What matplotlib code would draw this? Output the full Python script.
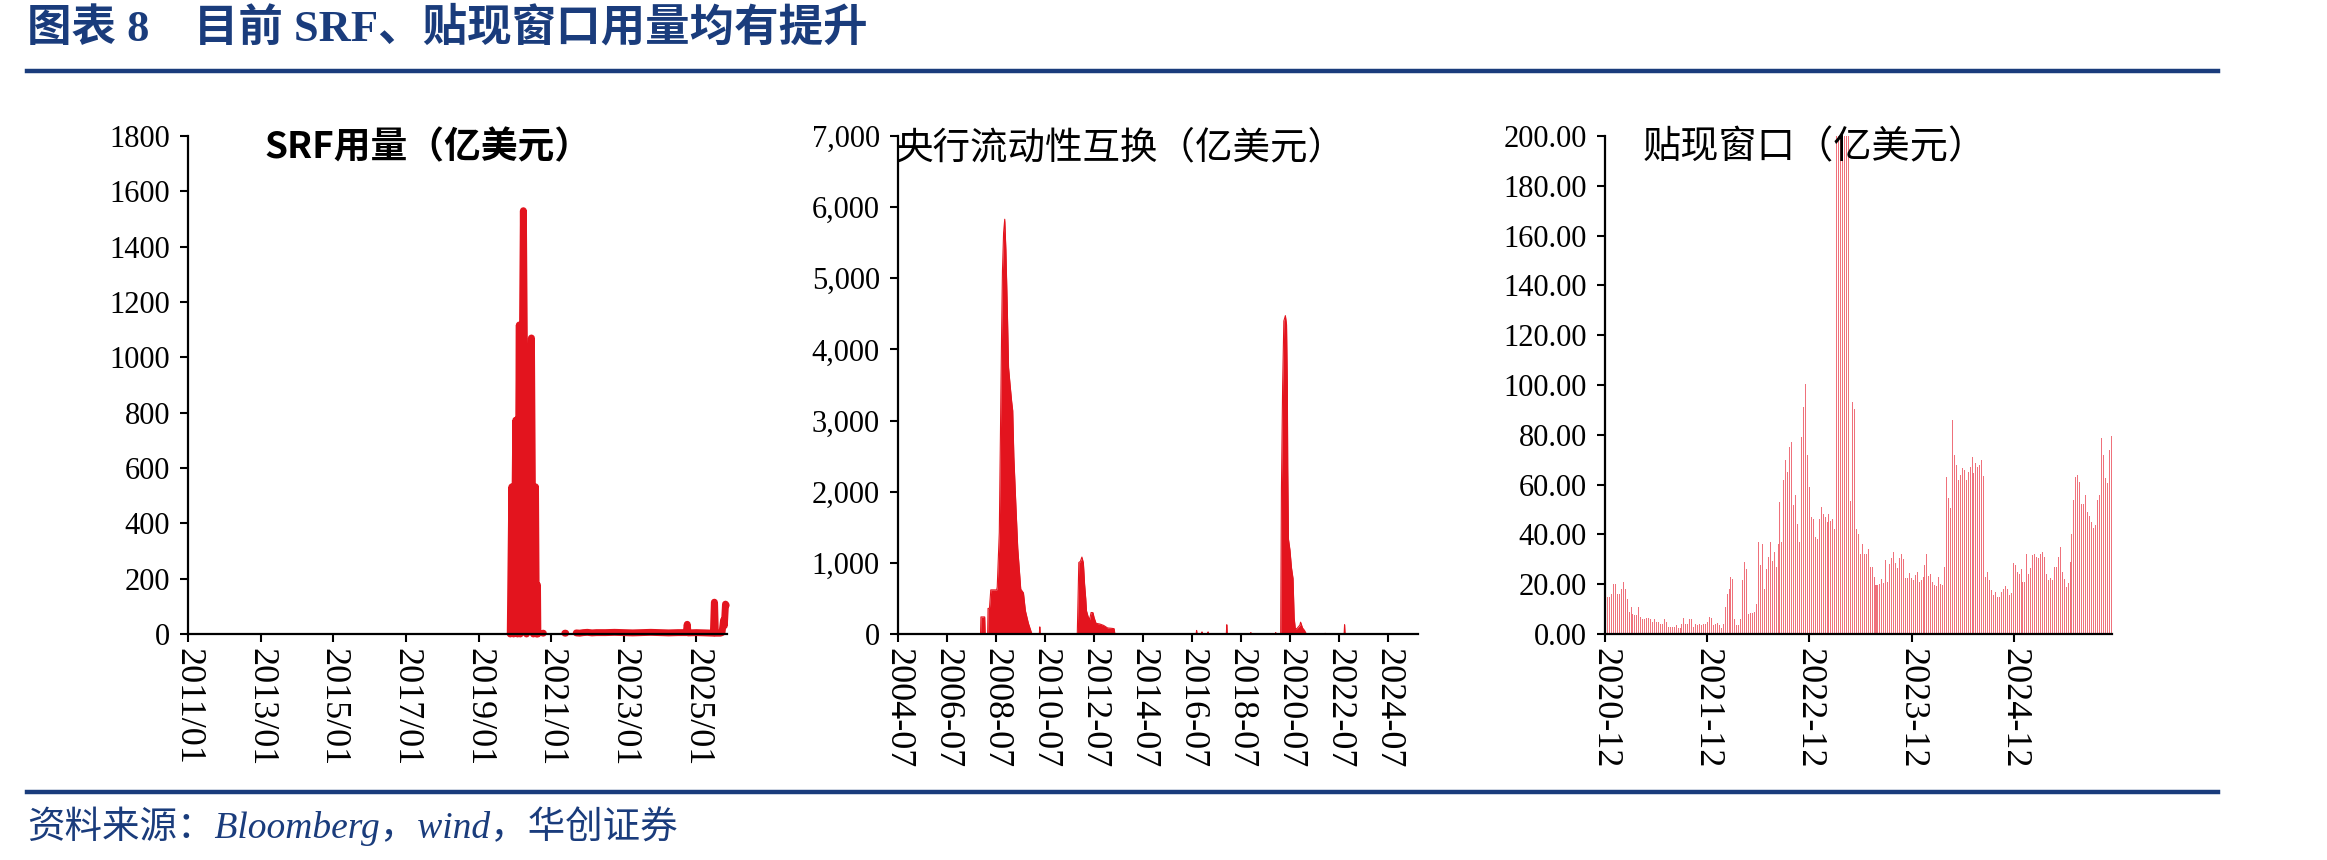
import matplotlib
matplotlib.use("Agg")
import matplotlib.pyplot as plt
import matplotlib.dates as mdates
from matplotlib.lines import Line2D
from matplotlib.ticker import FuncFormatter, MultipleLocator
import numpy as np
import pandas as pd

nan = np.nan

# ---- SRF 用量（亿美元） ----
srf_dates = [
    "2019-11-16", "2019-12-02", "2019-12-20", "2020-01-11", "2020-01-28", "2020-02-15",
    "2020-02-25", "2020-03-27", "2020-04-28", "2020-06-16", "2020-07-05", "2020-07-27",
    "2020-08-05", "2020-08-16", "2020-08-20", "2020-08-25",
    "2020-10-10", "2020-10-14", "2020-11-01",
    "2021-05-18", "2021-05-27", "2021-07-01",
    "2021-09-10", "2021-10-15", "2021-11-20", "2021-12-31", "2022-02-15", "2022-04-01",
    "2022-06-30", "2022-09-30", "2022-12-30", "2023-03-31", "2023-06-30", "2023-09-29",
    "2023-12-29", "2024-03-28", "2024-06-28", "2024-09-20", "2024-09-30", "2024-10-08",
    "2024-12-31", "2025-03-31", "2025-06-20", "2025-06-30", "2025-07-02", "2025-07-10",
    "2025-08-29", "2025-09-15", "2025-09-30", "2025-10-08", "2025-10-20", "2025-10-27",
]
srf_values = [
    0, 532, 0, 773, 0, 1117,
    0, 1530, 0, 1070, 0, 532,
    0, 177, 0, nan,
    3, 3, nan,
    3, 3, nan,
    4, 3, 5, 6, 4, 5,
    5, 6, 5, 4, 5, 6,
    5, 4, 5, 5, 35, 4,
    5, 4, 3, 115, 110, 3,
    3, 5, 50, 30, 108, 104,
]

# ---- 央行流动性互换（亿美元） ----
swap_dates = [
    "2007-11-14", "2007-11-20", "2008-01-15", "2008-01-22", "2008-02-28", "2008-03-05",
    "2008-03-26", "2008-04-15", "2008-07-12", "2008-07-20", "2008-08-20", "2008-09-07",
    "2008-09-24", "2008-10-06", "2008-10-23", "2008-11-09", "2008-11-26", "2008-12-19",
    "2009-01-05", "2009-01-28", "2009-02-20", "2009-03-08", "2009-03-25", "2009-04-23",
    "2009-05-22", "2009-07-06", "2009-08-15", "2009-09-13", "2009-10-28", "2009-12-19",
    "2010-04-09", "2010-04-16", "2010-04-23",
    "2011-10-27", "2011-11-19", "2011-12-12", "2012-01-04", "2012-01-26", "2012-02-13",
    "2012-03-01", "2012-03-12", "2012-04-04", "2012-04-27", "2012-05-20", "2012-06-17",
    "2012-07-04", "2012-08-02", "2012-09-28", "2012-11-24", "2013-01-21", "2013-03-19",
    "2013-04-28", "2013-05-10",
    "2016-09-03", "2016-09-10", "2016-09-17", "2016-11-22", "2016-11-29", "2016-12-06",
    "2017-02-21", "2017-02-28", "2017-03-07", "2017-11-27", "2017-12-04", "2017-12-11",
    "2018-11-21", "2018-11-28", "2018-12-05", "2019-11-27", "2019-12-04", "2019-12-11",
    "2020-02-16", "2020-02-27", "2020-03-16", "2020-04-03", "2020-04-26", "2020-05-13",
    "2020-05-25", "2020-05-31", "2020-06-11", "2020-07-03", "2020-07-26", "2020-08-18",
    "2020-09-04", "2020-09-21", "2020-10-14", "2020-11-28", "2020-12-09", "2021-01-07",
    "2021-02-05", "2021-03-05",
    "2021-12-03", "2021-12-10", "2021-12-17", "2022-09-19", "2022-09-26", "2022-10-03",
]
swap_values = [
    0, 240, 240, 0, 0, 360,
    360, 620, 620, 660, 1430, 2900,
    4300, 5100, 5640, 5830, 5400, 4500,
    3745, 3500, 3270, 3140, 2490, 1835,
    1207, 630, 578, 327, 150, 0,
    0, 100, 0,
    0, 1005, 1020, 1081, 1000, 700,
    500, 327, 250, 200, 302, 300,
    230, 150, 140, 120, 85, 80,
    75, 0,
    0, 50, 0, 0, 30, 0,
    0, 30, 0, 0, 130, 0,
    0, 20, 0, 0, 20, 0,
    0, 2036, 3494, 4400, 4475, 4350,
    3494, 2338, 1332, 1181, 930, 780,
    226, 75, 75, 125, 166, 85,
    50, 0,
    0, 10, 0, 0, 130, 0,
]

# ---- 贴现窗口（亿美元），周度 ----
dw_start = "2020-12-03"
dw_values = [
    17, 15, 15, 16, 20, 20, 16, 16, 18, 21,
    18, 14, 9, 11, 8, 7.5, 7.5, 11, 7, 6,
    6, 6.5, 6.5, 6, 5, 6, 5, 5, 4, 4,
    6, 5, 3, 3, 3, 3, 3.5, 2.6, 2.6, 4,
    6.5, 4, 4, 6, 6, 3, 4, 3.5, 4, 3.5,
    4, 4, 5, 7, 6.5, 3.5, 4, 4.6, 3.5, 2.6,
    4, 11, 16, 18, 23, 22, 6, 3.5, 3.5, 6,
    21.5, 29, 26, 8, 8.6, 8.6, 9, 12, 37, 27.6,
    36, 18, 26, 31, 37, 29.5, 33, 27, 36, 53,
    37, 62, 70, 65, 75, 77, 52, 56, 44, 37,
    79, 91, 100.5, 72, 59, 47, 46, 39, 38, 46,
    51, 48, 47, 45, 48, 45.5, 46, 42,
    1530, 1100, 880, 700, 690, 670, 600,
    53.5, 93, 90.5, 42, 40, 32, 36, 32, 32, 34,
    27, 27, 23, 19.7, 19.7, 20, 22, 20.5, 29.7, 21,
    28, 30.5, 33, 28.7, 26.6, 30.5, 32, 30, 22.6, 22.6,
    24.4, 22.6, 21.5, 23.7, 24.9, 21, 21.8, 23, 27.6, 32,
    23.4, 24, 21, 19.7, 19.4, 23, 20.1, 19.7, 27, 63,
    54.6, 50.6, 86, 72, 68, 62, 64, 66.8, 66, 62,
    65, 67, 71, 64.7, 68.7, 67, 68, 70, 63.5, 23,
    25, 21.8, 17.5, 15.8, 16.8, 14.8, 14.7, 16.8, 18.2, 19.4,
    18, 15.8, 16.5, 28.7, 27.7, 24.9, 24, 26.3, 21, 21,
    32, 24, 26.6, 31.6, 32, 30.9, 30.5, 32, 33, 31,
    24, 21.8, 22.6, 21.8, 27, 27, 31, 35, 24.7, 22,
    19, 20.4, 29, 40, 54, 63, 64, 61, 52.4, 52.4,
    56, 49, 47.4, 44.8, 42.7, 43.8, 53.9, 56, 78.7, 72,
    62.8, 60.6, 74, 79.5,
]

srf_ticks = ["2011-01-01", "2013-01-01", "2015-01-01", "2017-01-01",
             "2019-01-01", "2021-01-01", "2023-01-01", "2025-01-01"]
swap_ticks = ["2004-07-01", "2006-07-01", "2008-07-01", "2010-07-01", "2012-07-01",
              "2014-07-01", "2016-07-01", "2018-07-01", "2020-07-01", "2022-07-01",
              "2024-07-01"]
dw_ticks = ["2020-12-01", "2021-12-01", "2022-12-01", "2023-12-01", "2024-12-01"]

title = "图表 8    目前 SRF、贴现窗口用量均有提升"
source = "资料来源：Bloomberg，wind，华创证券"

W, H = 2327, 860
RED = "#E3141E"
PINK = "#EF717B"
BLUE = "#1A3C7C"
SERIF = ["Liberation Serif", "Noto Sans CJK SC"]
CJK = ["Noto Sans CJK SC", "DejaVu Sans"]
YTICK_FS = 22
XTICK_FS = 26

fig = plt.figure(figsize=(W / 100, H / 100), dpi=100)


def px_axes(x0, x1, y_top, y_bot):
    return fig.add_axes([x0 / W, 1 - y_bot / H, (x1 - x0) / W, (y_bot - y_top) / H])


def style_axes(ax):
    for side in ("top", "right"):
        ax.spines[side].set_visible(False)
    for side in ("left", "bottom"):
        ax.spines[side].set_linewidth(1.6)
        ax.spines[side].set_color("black")
    ax.tick_params(axis="both", direction="out", length=6, width=1.5, colors="black")
    ax.tick_params(axis="y", pad=7)
    ax.tick_params(axis="x", pad=4)
    for lab in ax.get_yticklabels():
        lab.set_fontfamily(SERIF)
        lab.set_fontsize(YTICK_FS)
    for lab in ax.get_xticklabels():
        lab.set_fontfamily(SERIF)
        lab.set_fontsize(XTICK_FS)
        lab.set_rotation(-90)
        lab.set_ha("center")
        lab.set_va("top")


# panel 1: SRF
ax1 = px_axes(188, 727, 136, 634)
ax1.plot(pd.to_datetime(srf_dates), srf_values, color=RED, lw=5,
         solid_capstyle="round", solid_joinstyle="round", clip_on=False, zorder=2)
ax1.set_ylim(0, 1800)
ax1.yaxis.set_major_locator(MultipleLocator(200))
ax1.set_xlim(pd.Timestamp("2011-01-01"), pd.Timestamp("2025-11-04"))
ax1.set_xticks(pd.to_datetime(srf_ticks))
ax1.xaxis.set_major_formatter(mdates.DateFormatter("%Y/%m"))
style_axes(ax1)

# panel 2: 央行流动性互换
ax2 = px_axes(898, 1418, 136, 634)
sd = pd.to_datetime(swap_dates)
ax2.fill_between(sd, swap_values, 0, color=RED, lw=0)
ax2.plot(sd, swap_values, color=RED, lw=0.8)
ax2.set_ylim(0, 7000)
ax2.yaxis.set_major_locator(MultipleLocator(1000))
ax2.yaxis.set_major_formatter(FuncFormatter(lambda v, p: f"{v:,.0f}"))
ax2.set_xlim(pd.Timestamp("2004-07-01"), pd.Timestamp("2025-09-25"))
ax2.set_xticks(pd.to_datetime(swap_ticks))
ax2.xaxis.set_major_formatter(mdates.DateFormatter("%Y-%m"))
style_axes(ax2)

# panel 3: 贴现窗口
ax3 = px_axes(1605, 2112, 136, 634)
dw_dates = pd.date_range(dw_start, periods=len(dw_values), freq="7D")
ax3.bar(dw_dates, dw_values, width=3.6, color=PINK, lw=0)
ax3.set_ylim(0, 200)
ax3.yaxis.set_major_locator(MultipleLocator(20))
ax3.yaxis.set_major_formatter(FuncFormatter(lambda v, p: f"{v:.2f}"))
ax3.set_xlim(pd.Timestamp("2020-12-01"), dw_dates[-1] + pd.Timedelta(days=3))
ax3.set_xticks(pd.to_datetime(dw_ticks))
ax3.xaxis.set_major_formatter(mdates.DateFormatter("%Y-%m"))
style_axes(ax3)

# panel titles
fig.text(264 / W, 1 - 148 / H, "SRF用量（亿美元）", fontsize=26.5, fontweight="bold",
         family=CJK, va="center", ha="left")
fig.text(895 / W, 1 - 148 / H, "央行流动性互换（亿美元）", fontsize=27,
         family=CJK, va="center", ha="left")
fig.text(1643 / W, 1 - 148 / H, "贴现窗口（亿美元）", fontsize=27.5,
         family=CJK, va="center", ha="left")

# header / footer
fig.text(27 / W, 1 - 28 / H, title, fontsize=32, fontweight="bold", color=BLUE,
         family=SERIF, va="center", ha="left")
fig.add_artist(Line2D([27 / W, 2218 / W], [1 - 71 / H, 1 - 71 / H], color=BLUE, lw=3.2))
fig.add_artist(Line2D([27 / W, 2218 / W], [1 - 792 / H, 1 - 792 / H], color=BLUE, lw=3.2))
fig.text(27 / W, 1 - 826 / H, source, fontsize=27, style="italic", color=BLUE,
         family=SERIF, va="center", ha="left")

fig.savefig("out.png", dpi=100)
